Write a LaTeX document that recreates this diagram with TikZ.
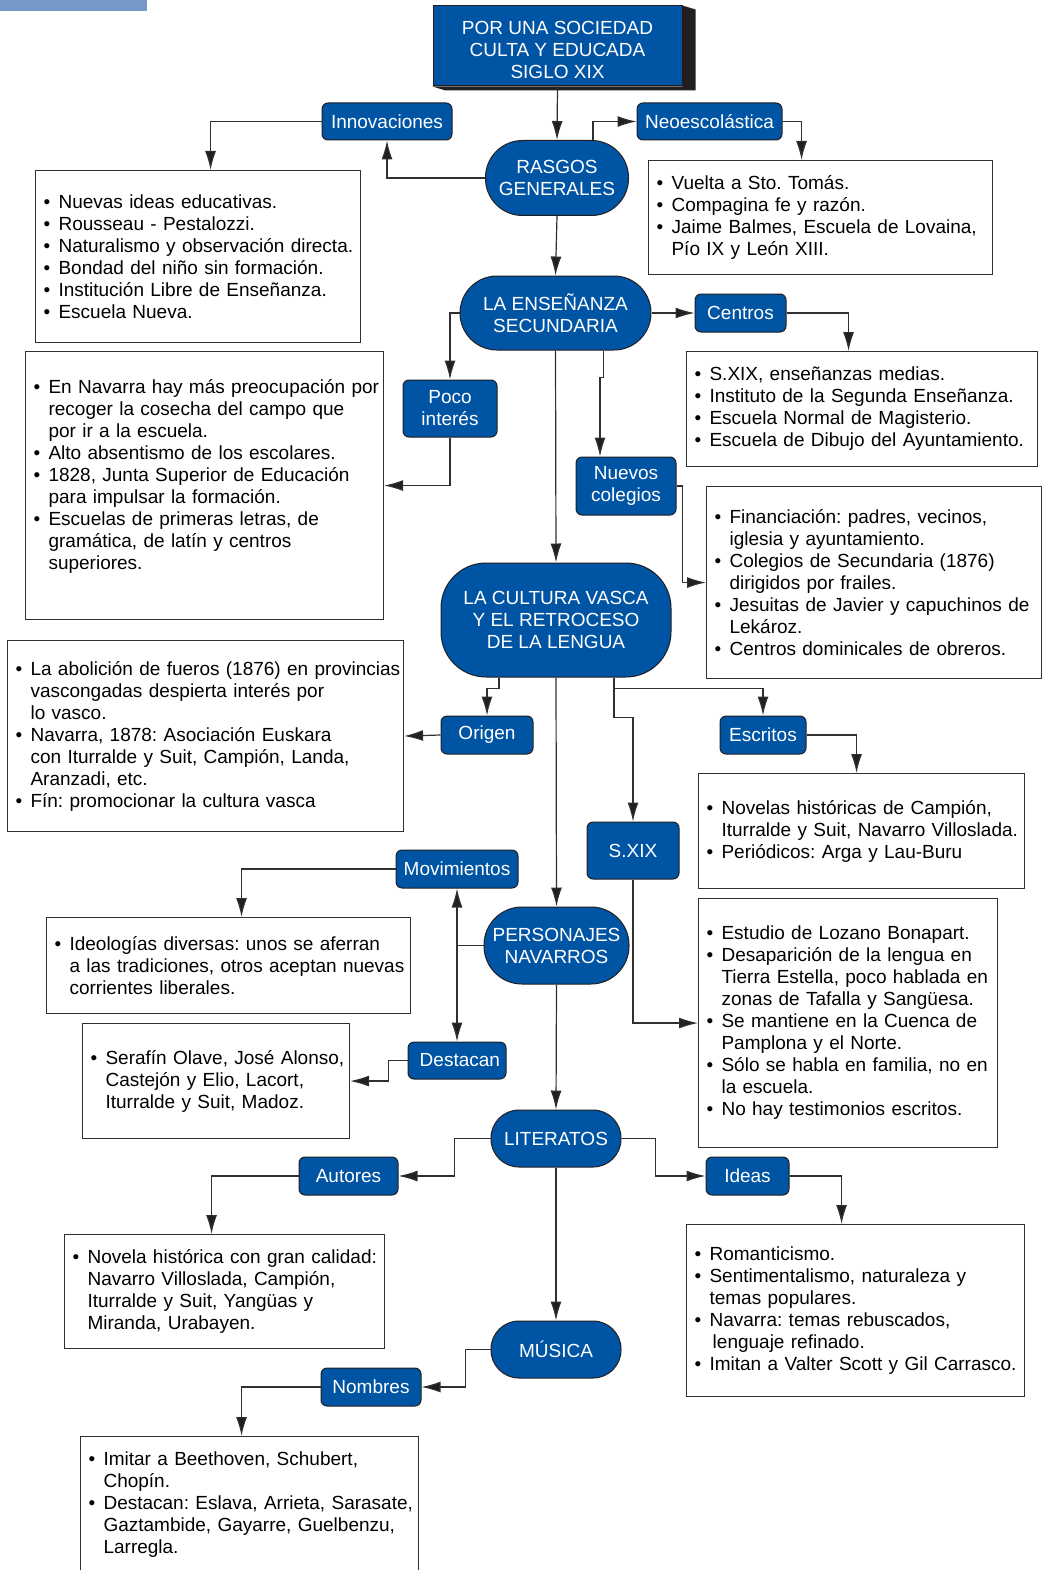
\documentclass[tikz,border=0pt]{standalone}
\usepackage{fontspec}
\setmainfont{Liberation Sans}
\usepackage{tikz}
\usetikzlibrary{arrows.meta,positioning}
\definecolor{navy}{HTML}{0054A4}
\definecolor{ink}{HTML}{231F20}
\definecolor{wire}{HTML}{303030}
\definecolor{strip}{HTML}{7498C7}
\newcommand\bul[1]{\mbox{\makebox[15pt][l]{\textbullet}#1}}
\newcommand\sig[1]{\mbox{\hspace*{15pt}#1}}
\frenchspacing

\begin{document}
\begin{tikzpicture}[x=1pt, y=-1pt, every node/.style={font=\fontsize{19}{22}\selectfont}, tag/.style={draw=ink,fill=navy,text=white,rounded corners=6pt,align=center,inner sep=0pt,line width=1pt}, note/.style={draw=wire,line width=1.1pt,anchor=north west,align=left,inner xsep=8pt,inner ysep=0pt}, arr/.style={-{Latex[length=19pt,width=11pt,fill=ink]},line width=1.2pt,draw=wire}, link/.style={line width=1.2pt,draw=wire}]
\useasboundingbox (0,0) rectangle (1043,1570);
\fill[strip] (0,0) rectangle (147,11);
\node[tag,rounded corners=0pt,minimum width=249pt,minimum height=80pt] (title) at (557.5,46) {\rule{0pt}{21pt}POR UNA SOCIEDAD\\CULTA Y EDUCADA\\SIGLO XIX};
\fill[ink] (title.north east) -- ++(13,4) -- ([shift={(13,4)}]title.south east) -- ([shift={(13,4)}]title.south west) -- (title.south west) -- (title.south east) -- cycle;

\node[tag,minimum width=143pt,minimum height=75pt,rounded corners=37pt] (rasgos) at (557,178) {RASGOS\\GENERALES};
\node[tag,minimum width=191pt,minimum height=74pt,rounded corners=37pt] (ensen) at (555.5,313) {LA ENSEÑANZA\\SECUNDARIA};
\node[tag,minimum width=230pt,minimum height=114pt,rounded corners=45pt] (cultura) at (556,620) {LA CULTURA VASCA\\Y EL RETROCESO\\DE LA LENGUA};
\node[tag,minimum width=145pt,minimum height=77pt,rounded corners=38pt] (perso) at (556.5,945.5) {PERSONAJES\\NAVARROS};
\node[tag,minimum width=130pt,minimum height=57pt,rounded corners=28pt] (liter) at (556,1138.5) {LITERATOS};
\node[tag,minimum width=130pt,minimum height=57pt,rounded corners=28pt] (musica) at (556,1349.5) {MÚSICA};

\node[tag,minimum width=130pt,minimum height=37pt] (innov) at (387,121.5) {Innovaciones};
\node[tag,minimum width=145pt,minimum height=37pt] (neo) at (709.5,121.5) {Neoescolástica};
\node[tag,minimum width=91pt,minimum height=38pt] (centros) at (740.5,313) {Centros};
\node[tag,minimum width=94pt,minimum height=57pt] (poco) at (450,408.5) {Poco\\interés};
\node[tag,minimum width=100pt,minimum height=58pt] (nuevos) at (626,486) {Nuevos\\colegios};
\node[tag,minimum width=92pt,minimum height=38pt] (origen) at (487,735) {Origen};
\node[tag,minimum width=86pt,minimum height=38pt] (escritos) at (763,735) {Escritos};
\node[tag,minimum width=92pt,minimum height=57pt] (sxix) at (633,850.5) {S.XIX};
\node[tag,minimum width=122pt,minimum height=38pt] (movim) at (457,869) {Movimientos};
\node[tag,minimum width=98pt,minimum height=37pt,text width=86pt,align=right] (destacan) at (457,1060.5) {Destacan};
\node[tag,minimum width=99pt,minimum height=38pt] (autores) at (348.5,1176) {Autores};
\node[tag,minimum width=83pt,minimum height=38pt] (ideas) at (747.5,1176) {Ideas};
\node[tag,minimum width=100pt,minimum height=38pt] (nombres) at (371,1387) {Nombres};

\node[note,minimum height=172pt,text width=309pt] (innovbox) at (35,170) {\bul{Nuevas ideas educativas.}\\\bul{Rousseau - Pestalozzi.}\\\bul{Naturalismo y observación directa.}\\\bul{Bondad del niño sin formación.}\\\bul{Institución Libre de Enseñanza.}\\\bul{Escuela Nueva.}};
\node[note,minimum height=114pt,text width=328pt] (neobox) at (648,160) {\bul{Vuelta a Sto. Tomás.}\\\bul{Compagina fe y razón.}\\\bul{Jaime Balmes, Escuela de Lovaina,}\\\sig{Pío IX y León XIII.}};
\node[note,minimum height=268pt,text width=342pt] (pocobox) at (25,351) {\bul{En Navarra hay más preocupación por}\\\sig{recoger la cosecha del campo que}\\\sig{por ir a la escuela.}\\\bul{Alto absentismo de los escolares.}\\\bul{1828, Junta Superior de Educación}\\\sig{para impulsar la formación.}\\\bul{Escuelas de primeras letras, de}\\\sig{gramática, de latín y centros}\\\sig{superiores.}\\\mbox{}};
\node[note,minimum height=115pt,text width=335pt] (centrosbox) at (686,351) {\bul{S.XIX, enseñanzas medias.}\\\bul{Instituto de la Segunda Enseñanza.}\\\bul{Escuela Normal de Magisterio.}\\\bul{Escuela de Dibujo del Ayuntamiento.}};
\node[note,minimum height=192pt,text width=319pt] (nuevosbox) at (706,486) {\bul{Financiación: padres, vecinos,}\\\sig{iglesia y ayuntamiento.}\\\bul{Colegios de Secundaria (1876)}\\\sig{dirigidos por frailes.}\\\bul{Jesuitas de Javier y capuchinos de}\\\sig{Lekároz.}\\\bul{Centros dominicales de obreros.}};
\node[note,minimum height=191pt,text width=380pt] (origenbox) at (7,640) {\bul{La abolición de fueros (1876) en provincias}\\\sig{vascongadas despierta interés por}\\\sig{lo vasco.}\\\bul{Navarra, 1878: Asociación Euskara}\\\sig{con Iturralde y Suit, Campión, Landa,}\\\sig{Aranzadi, etc.}\\\bul{Fín: promocionar la cultura vasca}};
\node[note,minimum height=115pt,text width=310pt] (escritosbox) at (698,773) {\bul{Novelas históricas de Campión,}\\\sig{Iturralde y Suit, Navarro Villoslada.}\\\bul{Periódicos: Arga y Lau-Buru}};
\node[note,minimum height=249pt,text width=283pt] (sxixbox) at (698,898) {\bul{Estudio de Lozano Bonapart.}\\\bul{Desaparición de la lengua en}\\\sig{Tierra Estella, poco hablada en}\\\sig{zonas de Tafalla y Sangüesa.}\\\bul{Se mantiene en la Cuenca de}\\\sig{Pamplona y el Norte.}\\\bul{Sólo se habla en familia, no en}\\\sig{la escuela.}\\\bul{No hay testimonios escritos.}};
\node[note,minimum height=96pt,text width=348pt] (movbox) at (46,917) {\bul{Ideologías diversas: unos se aferran}\\\sig{a las tradiciones, otros aceptan nuevas}\\\sig{corrientes liberales.}};
\node[note,minimum height=115pt,text width=251pt] (destbox) at (82,1023) {\bul{Serafín Olave, José Alonso,}\\\sig{Castejón y Elio, Lacort,}\\\sig{Iturralde y Suit, Madoz.}};
\node[note,minimum height=114pt,text width=304pt] (autbox) at (64,1234) {\bul{Novela histórica con gran calidad:}\\\sig{Navarro Villoslada, Campión,}\\\sig{Iturralde y Suit, Yangüas y}\\\sig{Miranda, Urabayen.}};
\node[note,minimum height=172pt,text width=322pt] (ideasbox) at (686,1224) {\bul{Romanticismo.}\\\bul{Sentimentalismo, naturaleza y}\\\sig{temas populares.}\\\bul{Navarra: temas rebuscados,}\\\sig{\,lenguaje refinado.}\\\bul{Imitan a Valter Scott y Gil Carrasco.}};
\node[note,minimum height=136pt,text width=322pt] (nombox) at (80,1436) {\bul{Imitar a Beethoven, Schubert,}\\\sig{Chopín.}\\\bul{Destacan: Eslava, Arrieta, Sarasate,}\\\sig{Gaztambide, Gayarre, Guelbenzu,}\\\sig{Larregla.}};

\draw[arr] (title.south) -- (rasgos.north);
\draw[arr] (rasgos.west) -| (innov.south);
\draw[arr] (innov.west) -| ([xshift=12.5pt]innovbox.north);
\draw[arr] ([xshift=36pt]rasgos.north) |- (neo.west);
\draw[arr] (neo.east) -| ([xshift=-19pt]neobox.north);
\draw[arr] (rasgos.south) -- (ensen.north);
\draw[arr] (ensen.west) -| (poco.north);
\draw[arr] (poco.south) |- (pocobox.east);
\draw[arr] (ensen.east) -- (centros.west);
\draw[arr] (centros.east) -| ([xshift=-13.5pt]centrosbox.north);
\draw[arr] ([xshift=48pt]ensen.south) -- ++(0,27) -| ([xshift=-26pt]nuevos.north);
\draw[arr] (nuevos.east) -- ++(6,0) |- (nuevosbox.west);
\draw[arr] (ensen.south) -- (cultura.north);
\draw[arr] ([xshift=-57pt]cultura.south) -- ++(0,11) -| (origen.north);
\draw[arr] (origen.west) -- (origenbox.east);
\draw[arr] ([xshift=58pt]cultura.south) -- ++(0,11) -| (escritos.north);
\draw[arr] ([xshift=58pt]cultura.south) -- ++(0,40) -| (sxix.north);
\draw[arr] (escritos.east) -| ([xshift=-5pt]escritosbox.north);
\draw[arr] (sxix.south) |- (sxixbox.west);
\draw[arr] (cultura.south) -- (perso.north);
\draw[link] (perso.west) -- (perso.west -| movim.south);
\draw[arr,{Latex[length=19pt,width=11pt,fill=ink]}-{Latex[length=19pt,width=11pt,fill=ink]}] (movim.south) -- (destacan.north);
\draw[arr] (movim.west) -| ([xshift=13pt]movbox.north);
\draw[arr] (destacan.west) -- ++(-19,0) |- (destbox.east);
\draw[arr] (perso.south) -- (liter.north);
\draw[arr] (liter.west) -- ++(-36,0) |- (autores.east);
\draw[arr] (autores.west) -| ([xshift=-13pt]autbox.north);
\draw[arr] (liter.east) -- ++(34,0) |- (ideas.west);
\draw[arr] (ideas.east) -| ([xshift=-14pt]ideasbox.north);
\draw[arr] (liter.south) -- (musica.north);
\draw[arr] (musica.west) -- ++(-25,0) |- (nombres.east);
\draw[arr] (nombres.west) -| ([xshift=-8pt]nombox.north);
\end{tikzpicture}
\end{document}
